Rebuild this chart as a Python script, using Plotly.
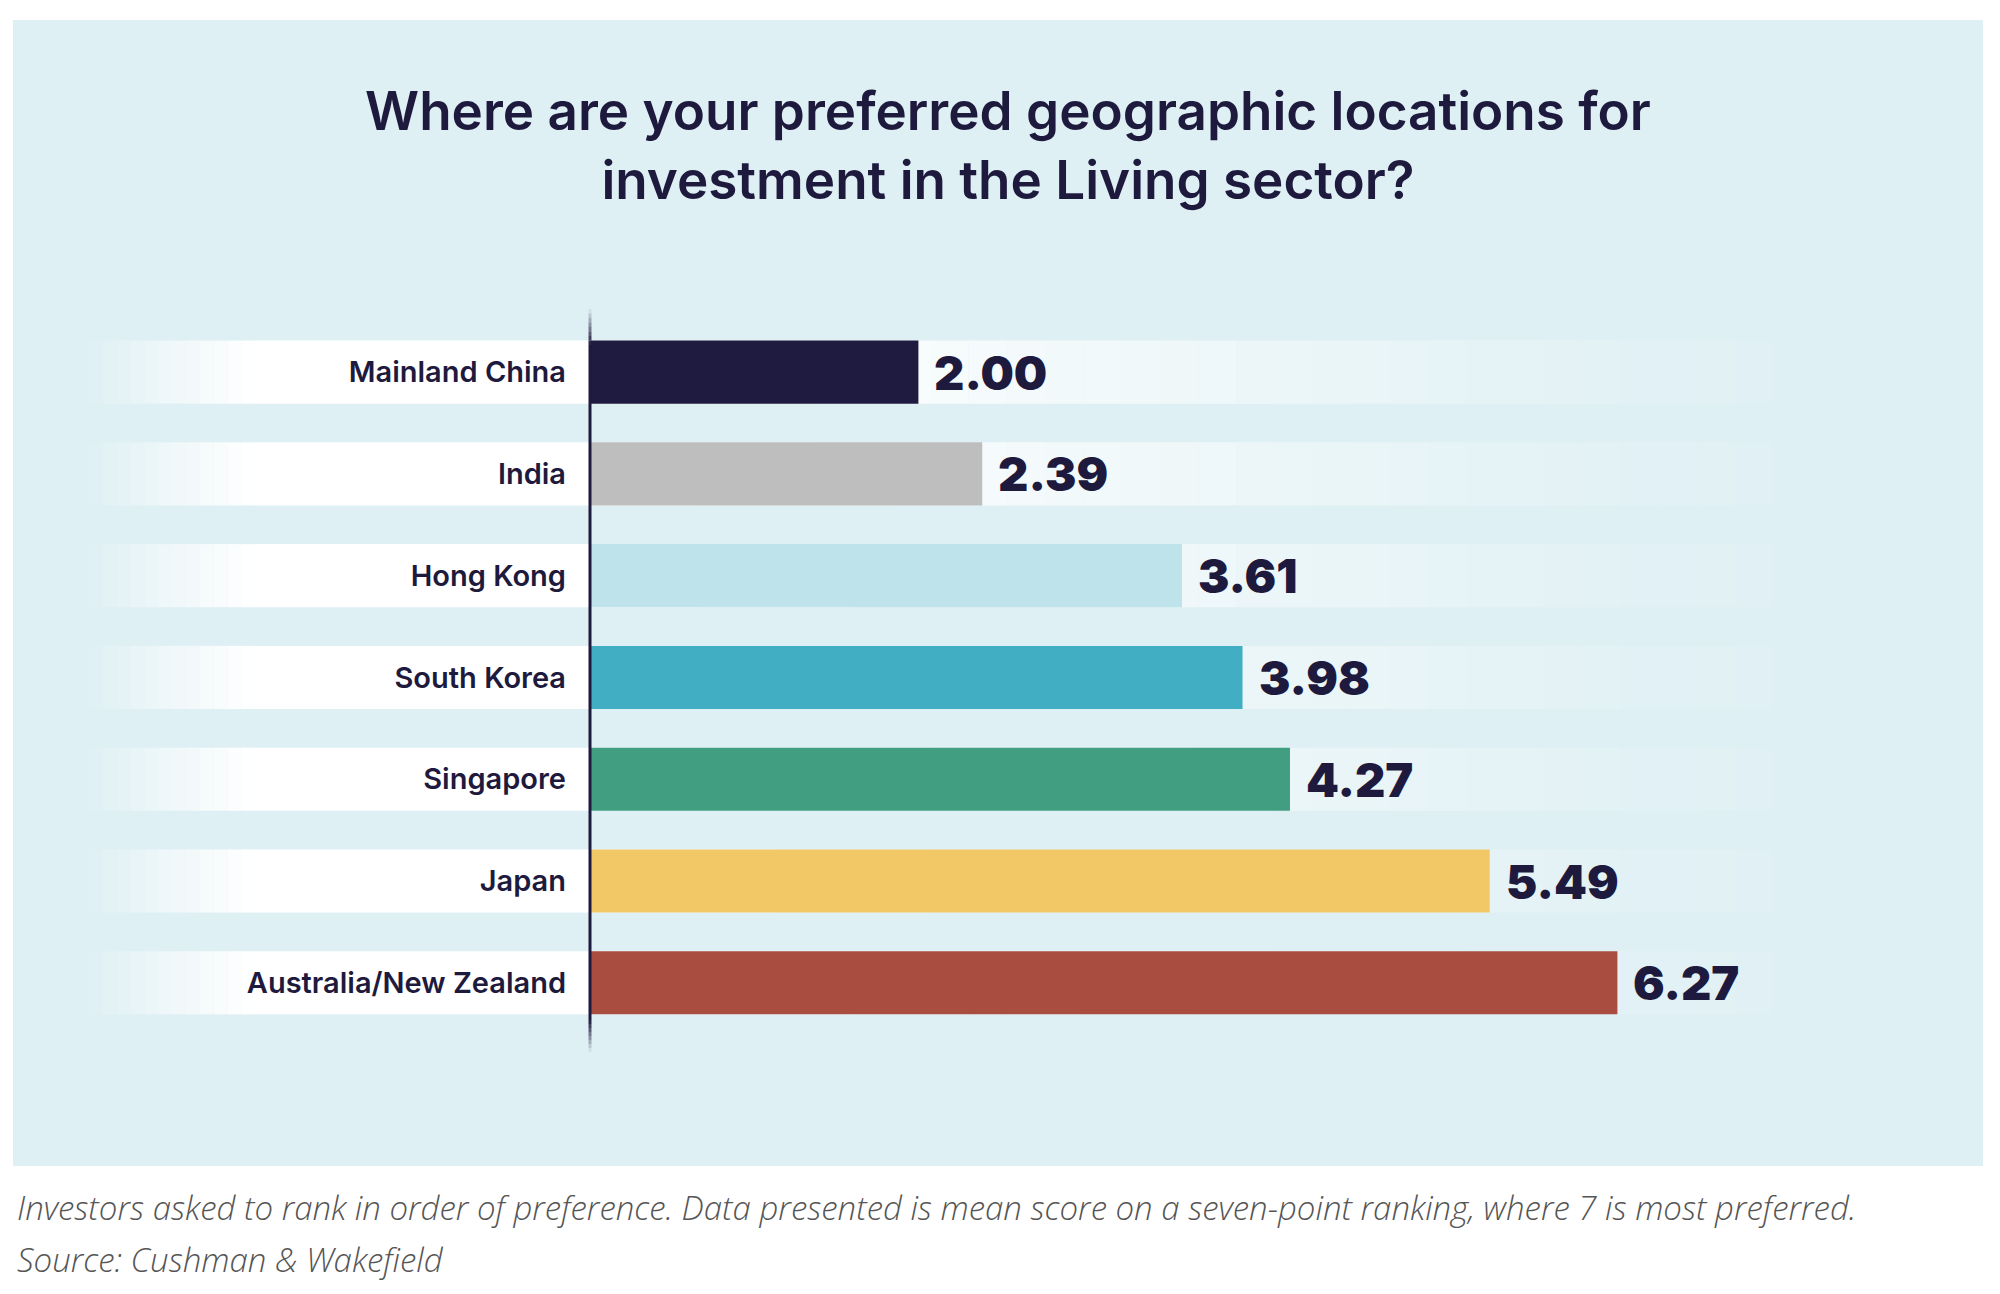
import plotly.graph_objects as go

# data
locations = ["Mainland China", "India", "Hong Kong", "South Korea",
             "Singapore", "Japan", "Australia/New Zealand"]
scores = [2.00, 2.39, 3.61, 3.98, 4.27, 5.49, 6.27]
bar_colors = ["#1f1a3f", "#bebebe", "#bfe3ea", "#42aec4",
              "#419e81", "#f2c766", "#a84d3f"]

title_text = ("Where are your preferred geographic locations for<br>"
              "investment in the Living sector?")
note_text = ("Investors asked to rank in order of preference. Data presented is "
             "mean score on a seven-point ranking, where 7 is most preferred.")
source_text = "Source: Cushman & Wakefield"

W, H = 2000, 1294
OFF = 8  # page body margin
L, R, T, B = 591 - OFF, 17 + OFF, 309 - OFF, 242 + OFF
navy = "#1e1a3e"
panel = "#dff0f4"


def px_x(X):
    # screen pixel -> paper x
    return (X - OFF - L) / (W - L - R)


def px_y(Y):
    return (H - B - (Y - OFF)) / (H - T - B)


fig = go.Figure()
fig.add_trace(go.Bar(
    x=scores, y=locations, orientation="h",
    marker=dict(color=bar_colors, line_width=0),
    width=0.62, hoverinfo="x+y",
))

shapes = []
# light blue panel
shapes.append(dict(type="rect", xref="paper", yref="paper",
                   x0=px_x(13), x1=px_x(1983), y0=px_y(1166), y1=px_y(20),
                   fillcolor=panel, line_width=0, layer="below"))

# white stripes behind each row, fading at both ends
n_left, n_right = 12, 30
for i, _ in enumerate(locations):
    y0, y1 = i - 0.31, i + 0.31
    # left fade 89 -> 255
    for k in range(n_left):
        a0 = 89 + (255 - 89) * k / n_left
        a1 = 89 + (255 - 89) * (k + 1) / n_left
        shapes.append(dict(type="rect", xref="paper", yref="y",
                           x0=px_x(a0), x1=px_x(a1), y0=y0, y1=y1,
                           fillcolor="white", opacity=(k + 0.5) / n_left,
                           line_width=0, layer="below"))
    shapes.append(dict(type="rect", xref="paper", yref="y",
                       x0=px_x(255), x1=px_x(700), y0=y0, y1=y1,
                       fillcolor="white", line_width=0, layer="below"))
    # right fade 700 -> 1850
    for k in range(n_right):
        a0 = 700 + (1850 - 700) * k / n_right
        a1 = 700 + (1850 - 700) * (k + 1) / n_right
        t = 1 - (k + 0.5) / n_right
        shapes.append(dict(type="rect", xref="paper", yref="y",
                           x0=px_x(a0), x1=px_x(a1), y0=y0, y1=y1,
                           fillcolor="white", opacity=t ** 1.3,
                           line_width=0, layer="below"))

# axis line with faded ends
ax_x = px_x(590)
n_end = 8
shapes.append(dict(type="line", xref="paper", yref="paper",
                   x0=ax_x, x1=ax_x, y0=px_y(1020), y1=px_y(345),
                   line=dict(color=navy, width=3)))
for k in range(n_end):
    op = (k + 0.5) / n_end
    shapes.append(dict(type="line", xref="paper", yref="paper", x0=ax_x, x1=ax_x,
                       y0=px_y(309 + 36 * k / n_end),
                       y1=px_y(309 + 36 * (k + 1) / n_end),
                       line=dict(color=navy, width=3), opacity=op))
    shapes.append(dict(type="line", xref="paper", yref="paper", x0=ax_x, x1=ax_x,
                       y0=px_y(1052 - 32 * k / n_end),
                       y1=px_y(1052 - 32 * (k + 1) / n_end),
                       line=dict(color=navy, width=3), opacity=op))

annotations = []
for loc, v in zip(locations, scores):
    annotations.append(dict(x=v, y=loc, xref="x", yref="y", text=f"{v:.2f}",
                            showarrow=False, xanchor="left", xshift=14,
                            font=dict(family="Inter", size=47, color=navy,
                                      weight=900)))
foot_font = dict(family="Open Sans", size=33, color="#555555", weight=300)
annotations.append(dict(x=px_x(15), y=px_y(1207), xref="paper", yref="paper",
                        text=f"<i>{note_text}</i>", showarrow=False,
                        xanchor="left", yanchor="middle", font=foot_font))
annotations.append(dict(x=px_x(15), y=px_y(1259), xref="paper", yref="paper",
                        text=f"<i>{source_text}</i>", showarrow=False,
                        xanchor="left", yanchor="middle", font=foot_font))

fig.update_layout(
    width=W, height=H,
    margin=dict(l=L, r=R, t=T, b=B),
    paper_bgcolor="white",
    plot_bgcolor="rgba(0,0,0,0)",
    showlegend=False,
    title=dict(text=title_text, x=0.5, xref="container", xanchor="center",
               y=1 - 122 / H, yref="container", yanchor="middle",
               font=dict(family="Inter", size=53, color=navy, weight=600)),
    shapes=shapes,
    annotations=annotations,
)
fig.update_xaxes(range=[0, (W - L - R) / 163.7], visible=False, fixedrange=True)
fig.update_yaxes(autorange=False, range=[6.68, -0.62], showgrid=False,
                 zeroline=False, showline=False, ticks="",
                 ticklabelstandoff=24,
                 tickfont=dict(family="Inter", size=29, color=navy, weight=600))

fig.write_html("out.html")
